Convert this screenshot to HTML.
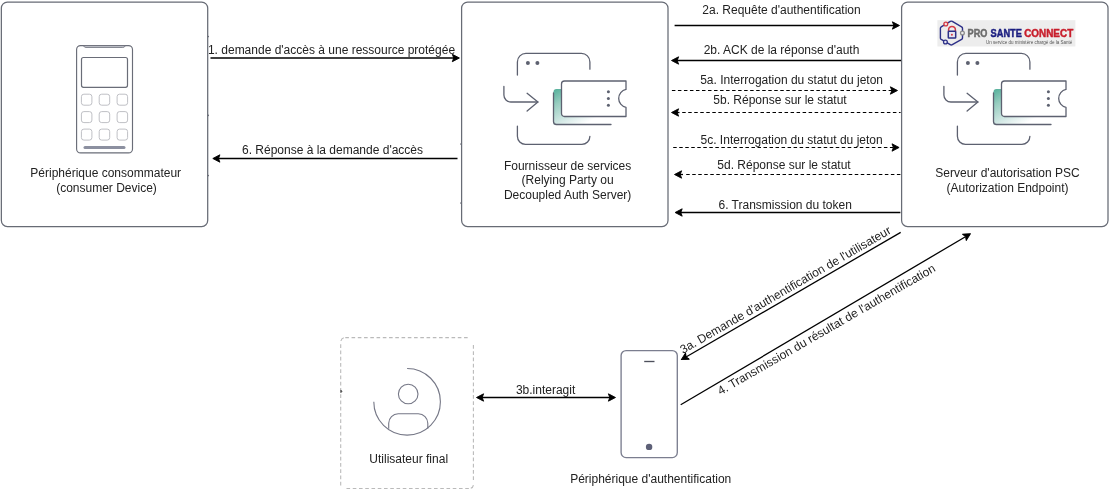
<!DOCTYPE html>
<html><head><meta charset="utf-8">
<style>
html,body{margin:0;padding:0;background:#fff;}
body{width:1114px;height:490px;overflow:hidden;}
svg{display:block;will-change:transform;}
text{font-family:"Liberation Sans",sans-serif;font-size:12px;fill:#222;}
</style></head>
<body>
<svg width="1114" height="490" viewBox="0 0 1114 490">
<defs>
  <linearGradient id="tg" gradientUnits="userSpaceOnUse" x1="556" y1="89" x2="578" y2="128">
    <stop offset="0" stop-color="#58b19c"/>
    <stop offset="0.3" stop-color="#98cdc0"/>
    <stop offset="0.7" stop-color="#d6eae7"/>
    <stop offset="1" stop-color="#ffffff"/>
  </linearGradient>
  <g id="ticket" fill="none" stroke="#5d6170" stroke-width="1.3" stroke-linecap="round" stroke-linejoin="round">
    <path d="M517.4,75 V61.9 A8.5,8.5 0 0 1 525.9,53.4 H581.4 A8.5,8.5 0 0 1 589.9,61.9 V69.2"/>
    <path d="M517.4,126.2 V136.3 A8,8 0 0 0 525.4,144.3 H581.9 A8,8 0 0 0 589.9,136.3"/>
    <circle cx="527.9" cy="62.9" r="2" fill="#5d6170" stroke="none"/>
    <circle cx="537.4" cy="62.9" r="2" fill="#5d6170" stroke="none"/>
    <path d="M503.9,86.4 V95 A7,7 0 0 0 510.9,102 H537.9"/>
    <path d="M527.1,93.3 L537.9,102.1 L527.1,111"/>
    <path d="M556.5,89 H562 V124.5 H553.5 V92 A3,3 0 0 1 556.5,89 Z" fill="url(#tg)" stroke="none"/>
    <rect x="553.5" y="116" width="60" height="8.5" fill="url(#tg)" stroke="none"/>
    <path d="M611,124.5 H556.5 A3,3 0 0 1 553.5,121.5 V93"/>
    <path d="M564.5,81 H626 V89.4 A9.2,9.2 0 0 0 626,107.4 V116.5 H564.5 A3,3 0 0 1 561.5,113.5 V84 A3,3 0 0 1 564.5,81 Z" fill="#fff"/>
    <circle cx="608.4" cy="91.7" r="1.5" fill="#5d6170" stroke="none"/>
    <circle cx="608.4" cy="98.4" r="1.5" fill="#5d6170" stroke="none"/>
    <circle cx="608.4" cy="105.3" r="1.5" fill="#5d6170" stroke="none"/>
  </g>
  <path id="ah" d="M-0.3,0 L-7.4,-3.7 L-6,0 L-7.4,3.7 Z" fill="#000" stroke="#000" stroke-width="0.9" stroke-linejoin="round"/>
</defs>

<!-- boxes -->
<g fill="#fff" stroke="#676b75" stroke-width="1.25">
  <rect x="1.35" y="2.1" width="206.35" height="224.4" rx="6"/>
  <rect x="461.6" y="2.1" width="206.4" height="224.4" rx="6"/>
  <rect x="901.6" y="2.1" width="206.4" height="224.4" rx="6"/>
</g>

<!-- phone icon box1 -->
<g fill="none" stroke="#6a6d78" stroke-width="1.15">
  <rect x="76.6" y="45.6" width="55.9" height="107.3" rx="4"/>
  <path d="M83.6,45.9 Q84.3,47.5 86,47.5 H122.8 Q124.5,47.5 125.2,45.9 Z" fill="#dcdde3" stroke="#7a7d88" stroke-width="0.9"/>
  <rect x="81.5" y="57.5" width="46" height="29.8" rx="2" stroke-width="1.2"/>
  <line x1="85" y1="147.5" x2="124" y2="147.5" stroke="#8c90a0" stroke-width="3" stroke-linecap="round"/>
  <g stroke="#bfc0c5" stroke-width="1">
    <rect x="81.4" y="94.2" width="10.5" height="11" rx="2.5"/>
    <rect x="99.2" y="94.2" width="10.5" height="11" rx="2.5"/>
    <rect x="117.1" y="94.2" width="10.5" height="11" rx="2.5"/>
    <rect x="81.4" y="111.6" width="10.5" height="11" rx="2.5"/>
    <rect x="99.2" y="111.6" width="10.5" height="11" rx="2.5"/>
    <rect x="117.1" y="111.6" width="10.5" height="11" rx="2.5"/>
    <rect x="81.4" y="129.1" width="10.5" height="11" rx="2.5"/>
    <rect x="99.2" y="129.1" width="10.5" height="11" rx="2.5"/>
    <rect x="117.1" y="129.1" width="10.5" height="11" rx="2.5"/>
  </g>
</g>

<!-- ticket icons -->
<use href="#ticket"/>
<use href="#ticket" transform="translate(440,0)"/>

<!-- connection nubs -->
<g fill="#6a6d78">
  <circle cx="208.2" cy="36.5" r="0.85"/>
  <circle cx="208.2" cy="115.3" r="0.85"/>
  <circle cx="208.2" cy="175.5" r="0.85"/>
  <circle cx="461" cy="144" r="0.85"/>
  <circle cx="461" cy="203" r="0.85"/>
</g>
<!-- PSC logo -->
<g id="logo">
  <rect x="937.4" y="20.2" width="138" height="26.3" fill="#ededed"/>
  <path d="M950.3,21.4 Q951.3,20.8 952.3,21.4 L961.6,26.8 Q962.5,27.3 962.5,28.3 V37.9 Q962.5,38.9 961.6,39.4 L952.3,44.7 Q951.3,45.3 950.3,44.7 L941.2,39.4 Q940.4,38.9 940.4,37.9 V28.3 Q940.4,27.3 941.2,26.8 Z" fill="none" stroke="#2d3088" stroke-width="1.4"/>
  <circle cx="945.8" cy="24" r="1.9" fill="#f3e3e3" stroke="#d43a44" stroke-width="1.3"/>
  <circle cx="962.4" cy="33" r="1.9" fill="#ededed" stroke="#8a8a8a" stroke-width="1.3"/>
  <circle cx="945.4" cy="42" r="1.9" fill="#e3e3f0" stroke="#2d3088" stroke-width="1.3"/>
  <path d="M948.6,31.2 V29.8 A3.4,3.4 0 0 1 955.4,29.8 V31.2" fill="none" stroke="#d43a44" stroke-width="1.5"/>
  <rect x="948.3" y="31.2" width="7.4" height="6.9" rx="0.6" fill="#e6e6f0" stroke="#2d3088" stroke-width="1.5"/>
  <circle cx="951.9" cy="34.7" r="1" fill="#d43a44"/>
  <g style="font-weight:bold;font-size:9.6px" stroke-width="0.55" transform="translate(0,37) scale(1,0.84) translate(0,-37)">
  <text x="967.6" y="37" style="fill:#6c6c6c" stroke="#6c6c6c" textLength="19.8" lengthAdjust="spacingAndGlyphs">PRO</text>
  <text x="990.6" y="37" style="fill:#1b1e80" stroke="#1b1e80" textLength="31.3" lengthAdjust="spacingAndGlyphs">SANTE</text>
  <text x="1024.2" y="37" style="fill:#c81e2c" stroke="#c81e2c" textLength="49" lengthAdjust="spacingAndGlyphs">CONNECT</text>
  </g>
  <text x="986" y="44.1" style="font-size:4.8px;fill:#555" textLength="86.3" lengthAdjust="spacingAndGlyphs">Un service du ministère chargé de la Santé</text>
</g>

<!-- horizontal arrows -->
<g stroke="#000" stroke-width="1.3" fill="none">
  <line x1="210.5" y1="58" x2="454" y2="58"/>
  <line x1="457.5" y1="158.5" x2="218" y2="158.5"/>
  <line x1="674.6" y1="25.5" x2="894" y2="25.5"/>
  <line x1="901" y1="60.5" x2="677" y2="60.5"/>
  <line x1="900.4" y1="212.5" x2="680" y2="212.5"/>
  <g stroke-dasharray="3.5 2.52" stroke-width="1.15">
    <line x1="671.9" y1="90.5" x2="892" y2="90.5"/>
    <line x1="682.2" y1="112.5" x2="900.6" y2="112.5"/>
    <line x1="673.2" y1="147.5" x2="893.5" y2="147.5"/>
    <line x1="686.2" y1="174.5" x2="900.6" y2="174.5"/>
  </g>
  <line x1="677" y1="112.5" x2="679.5" y2="112.5"/>
  <line x1="680" y1="174.5" x2="683" y2="174.5"/>
  <line x1="900.7" y1="232.4" x2="686" y2="357"/>
  <line x1="680.7" y1="404.8" x2="965" y2="237"/>
  <line x1="482" y1="397.5" x2="610" y2="397.5"/>
</g>
<use href="#ah" transform="translate(459.7,58)"/>
<use href="#ah" transform="translate(212.5,158.5) rotate(180)"/>
<use href="#ah" transform="translate(899.8,25.5)"/>
<use href="#ah" transform="translate(671.2,60.5) rotate(180)"/>
<use href="#ah" transform="translate(897.8,90.5)"/>
<use href="#ah" transform="translate(671.2,112.5) rotate(180)"/>
<use href="#ah" transform="translate(899.4,147.5)"/>
<use href="#ah" transform="translate(674.2,174.5) rotate(180)"/>
<use href="#ah" transform="translate(674.8,212.5) rotate(180)"/>
<use href="#ah" transform="translate(681,359.8) rotate(149.9)"/>
<use href="#ah" transform="translate(970.7,233.5) rotate(-30.57)"/>
<use href="#ah" transform="translate(476.2,397.5) rotate(180)"/>
<use href="#ah" transform="translate(615.8,397.5)"/>

<!-- arrow labels -->
<g text-anchor="middle">
  <text x="331.5" y="54">1. demande d'accès à une ressource protégée</text>
  <text x="332.5" y="153.9">6. Réponse à la demande d'accès</text>
  <text x="781.5" y="13.7">2a. Requête d'authentification</text>
  <text x="781.5" y="54">2b. ACK de la réponse d'auth</text>
  <text x="791.6" y="83.8">5a. Interrogation du statut du jeton</text>
  <text x="780" y="104">5b. Réponse sur le statut</text>
  <text x="791.6" y="144">5c. Interrogation du statut du jeton</text>
  <text x="784" y="169">5d. Réponse sur le statut</text>
  <text x="785.2" y="208.8">6. Transmission du token</text>
  <text x="545.6" y="393.7">3b.interagit</text>

  <text x="105.7" y="177">Périphérique consommateur</text>
  <text x="106.5" y="192">(consumer Device)</text>
  <text x="567.6" y="170">Fournisseur de services</text>
  <text x="567.6" y="184">(Relying Party ou</text>
  <text x="567.6" y="199">Decoupled Auth Server)</text>
  <text x="1007.5" y="177">Serveur d'autorisation PSC</text>
  <text x="1007.5" y="192">(Autorization Endpoint)</text>

  <text x="408.7" y="462.6">Utilisateur final</text>
  <text x="650.7" y="482.7">Périphérique d'authentification</text>

  <text x="787.45" y="293.4" transform="rotate(-30.1 787.45 293.4)">3a. Demande d'authentification de l'utilisateur</text>
  <text x="828.35" y="333.05" transform="rotate(-30.0 828.35 333.05)">4. Transmission du résultat de l'authentification</text>
</g>

<!-- user box -->
<g fill="none" stroke="#bababa" stroke-width="1.1" stroke-dasharray="3.6 2.65">
  <path d="M345.3,337.65 H470"/>
  <path d="M340.7,344.3 V486"/>
  <path d="M473.4,345.1 V481"/>
  <path d="M346.5,488.5 H469.5"/>
  <path d="M340.9,341 Q341.5,338.3 343.8,337.7" stroke-dasharray="none"/>
  <path d="M470.8,488.3 Q473,487.7 473.4,485.2" stroke-dasharray="none"/>
</g>
<path d="M340.3,389.7 A1.9,1.65 0 0 1 340.3,393 Z" fill="#555"/>
<g fill="none" stroke="#757786" stroke-width="1.1">
  <path d="M407.1,368.5 A33.3,33.3 0 1 1 373.8,401.8"/>
  <circle cx="408.2" cy="394" r="9.8"/>
  <path d="M388.7,428.8 V423.3 A9.5,9.5 0 0 1 398.2,413.8 H418.3 A9.5,9.5 0 0 1 427.8,423.3 V428.8"/>
</g>

<!-- auth phone -->
<g fill="none" stroke="#7b7e8f" stroke-width="1.35">
  <rect x="621.1" y="350.6" width="56.2" height="107" rx="5"/>
  <line x1="644.2" y1="361.5" x2="654.5" y2="361.5" stroke="#4e505c"/>
  <circle cx="649.1" cy="446.9" r="3.2" fill="#5d6077" stroke="none"/>
</g>
</svg>
</body></html>
